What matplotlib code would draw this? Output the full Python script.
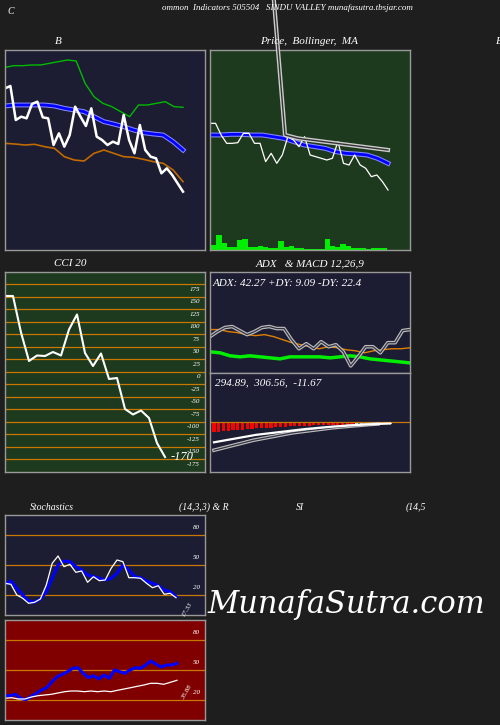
import matplotlib
matplotlib.use("Agg")
import matplotlib.pyplot as plt
import numpy as np

W, H = 500, 725
BG = "#1e1e1e"; NAVY = "#1c1c33"; GRN = "#1e3a1e"; RED = "#800000"; ORG = "#c87800"
FONT = "Liberation Serif"

# ---- data ----
b_close = [485,492,390,400,395,438,445,398,395,315,350,310,345,430,400,372,425,340,330,315,325,318,405,330,290,375,300,280,275,230,245,225,200,175]
b_ma = [432,435,435,435,435,432,425,420,415,400,385,378,370,360,352,348,345,325,300]
b_upper = [548,553,553,555,555,560,565,570,567,500,460,440,430,415,400,435,435,440,445,430,428]
b_lower = [320,318,315,317,310,305,280,270,267,290,300,290,280,278,272,265,260,240,205]

p_close = [380,380,345,320,320,322,350,350,320,320,265,290,260,285,340,330,310,340,285,280,275,270,275,325,260,255,285,255,245,220,225,205,180]
p_ma = [345,345,347,347,345,345,340,335,325,315,310,305,295,290,288,285,275,260]
p_band = [1000,345,335,330,325,320,315,310,305,300]
volume = [15,45,20,10,8,30,32,10,8,12,8,5,5,28,8,12,6,5,3,3,3,3,32,12,8,18,12,6,6,5,4,5,6,6]

cci = [152,152,79,22,33,32,40,33,85,115,38,12,37,-14,-12,-74,-85,-77,-92,-142,-170]
cci_levels = [175,150,125,100,75,50,25,0,-25,-50,-75,-100,-125,-150,-175]

adx = [36,41,45,46,42,38,41,45,46,44,44,33,24,29,24,31,26,28,21,7,16,26,26,20,30,30,42,43]
minus_di = [43,43,41,40,38,37,38,36,33,30,28,26,24,26,25,23,22,20,22,23,24,24,25]
plus_di = [21,20,17,16,17,16,15,14,16,16,16,16,15,16,17,16,14,13,12,11,10]

macd_hist = [-10,-9.5,-9,-8.5,-8,-7.6,-7.2,-6.8,-6.4,-6,-5.7,-5.4,-5.1,-4.8,-4.5,-4.2,-4,-3.8,-3.6,-3.4,-3.2,-3,-2.8,-2.6,-2.5,-2.4,-2.3,-2.2,-2.1,-2,-1.9,-1.8,-1.7,-1.6,-1.5,-1.4,-1.3,-1.2]
macd_line = [-20,-18.5,-17,-15.5,-14,-12.5,-11.5,-10.5,-9.5,-8.5,-7.5,-6.5,-5.8,-5,-4.3,-3.7,-3.1,-2.6,-2.1,-1.7,-1.3,-1]
macd_sig = [-28,-26,-24,-22,-20,-18,-16.5,-15,-13.5,-12,-10.5,-9.5,-8.5,-7.5,-6.5,-5.5,-4.7,-4,-3.3,-2.7,-2,-1.5]

stoch_k = [31.7,30.7,20,16.7,11.7,12.7,16,30,51.7,59,48.3,50.7,42.7,44,32.7,38.3,34.3,35,46.7,55,53.3,37.3,37.3,36.7,31.7,27.3,29.3,20.7,21.7,17.3]
stoch_d = [30.7,34,26.7,20,14,12.7,16,23.3,36.7,50,54,53.3,48.3,45,40,38.3,36.7,35,36.7,41.7,50,45,38.3,37.3,34,31.7,29.3,25,23.3,18.3]
rsi = [24.3,24.3,25.7,21.7,20.3,23.3,26.7,30,32.3,38.3,43.3,45.7,48.3,51.7,52.3,46.7,42.3,44.3,41,45,41.7,50,48.3,46.7,50,52.3,51.7,55,59,55.7,53,55,55,56.7]
rsi_ma = [21.7,22.3,21,21,23,24.3,25,25.7,27,28.3,29,29,28.3,29,28.3,29,28.3,29.7,31,32.3,33.7,35,36.7,36.7,35.7,37.7,39.7]
osc_levels = [80,50,20]

fig = plt.figure(figsize=(W/100, H/100), dpi=100, facecolor=BG)

def mkax(x0, y0, x1, y1, color):
    ax = fig.add_axes([x0/W, 1-y1/H, (x1-x0)/W, (y1-y0)/H], facecolor=color)
    ax.set_xticks([]); ax.set_yticks([])
    for s in ax.spines.values():
        s.set_color("#999999"); s.set_linewidth(1)
    return ax

def xs(vals, end, start=0):
    return np.linspace(start, end, len(vals))

def txt(x, y, s, size=8, **kw):
    fig.text(x/W, 1-y/H, s, color="white", fontsize=size, family=FONT, style="italic", **kw)

# B panel
ax = mkax(5, 50, 205, 250, NAVY)
ax.set_xlim(0, 200); ax.set_ylim(0, 600)
ax.plot(xs(b_upper, 178), b_upper, color="#00bb00", lw=1)
ax.plot(xs(b_lower, 178), b_lower, color="#c06a00", lw=1.2)
ax.plot(xs(b_ma, 178), b_ma, color="#8888ff", lw=3.5)
ax.plot(xs(b_ma, 178), b_ma, color="#0000ff", lw=2)
ax.plot(xs(b_close, 178), b_close, color="white", lw=1.8)

# Price panel
ax = mkax(210, 50, 410, 250, GRN)
ax.set_xlim(0, 200); ax.set_ylim(0, 600)
ax.bar(xs(volume, 174, start=4), volume, width=5.5, color="#00ee00")
bx = np.concatenate([[57], np.linspace(75, 178, len(p_band)-1)])
ax.plot(bx, p_band, color="#cccccc", lw=3, clip_on=False, zorder=3)
ax.plot(bx, p_band, color="#333333", lw=1, clip_on=False, zorder=3)
ax.plot(xs(p_ma, 178), p_ma, color="#8888ff", lw=3.5)
ax.plot(xs(p_ma, 178), p_ma, color="#0000ff", lw=2)
ax.plot(xs(p_close, 178), p_close, color="white", lw=0.9)

# CCI
ax = mkax(5, 272, 205, 472, GRN)
ax.set_xlim(0, 200); ax.set_ylim(-200, 200)
for lv in cci_levels:
    ax.axhline(lv, color=ORG, lw=0.9)
    ax.text(195, lv-5, str(lv), color="white", fontsize=5, family=FONT, style="italic", ha="right", va="top")
ax.plot(xs(cci, 160), cci, color="white", lw=1.5)
ax.text(166, cci[-1], str(cci[-1]), color="white", fontsize=9, family=FONT, style="italic", va="center")

# ADX
ax = mkax(210, 272, 410, 373, NAVY)
ax.set_xlim(0, 200); ax.set_ylim(0, 100)
ax.plot(xs(plus_di, 200), plus_di, color="#00ee00", lw=2.5)
ax.plot(xs(minus_di, 200), minus_di, color="#e08000", lw=1)
ax.plot(xs(adx, 200), adx, color="#bbbbbb", lw=2.6)
ax.plot(xs(adx, 200), adx, color="#333344", lw=0.9)
ax.text(3, 93, "ADX: 42.27 +DY: 9.09 -DY: 22.4", color="white", fontsize=8, family=FONT, style="italic", va="top")

# MACD
ax = mkax(210, 373, 410, 472, NAVY)
ax.set_xlim(0, 200); ax.set_ylim(-50, 50)
ax.axhline(0, color=ORG, lw=0.9)
hx = xs(macd_hist, 180, start=4)
cols = ["#ff0000"]*30 + ["#dddddd"]*8
ax.bar(hx, macd_hist, width=3.2, color=cols)
ax.plot(xs(macd_sig, 168, start=4), macd_sig, color="#bbbbbb", lw=2.6)
ax.plot(xs(macd_sig, 168, start=4), macd_sig, color="#333344", lw=0.9)
ax.plot(xs(macd_line, 180, start=4), macd_line, color="white", lw=1.6)
ax.text(5, 45, "294.89,  306.56,  -11.67", color="white", fontsize=8, family=FONT, style="italic", va="top")

# Stochastics
ax = mkax(5, 515, 205, 615, NAVY)
ax.set_xlim(0, 200); ax.set_ylim(0, 100)
for lv in osc_levels:
    ax.axhline(lv, color=ORG, lw=0.9)
    ax.text(195, lv+5, str(lv), color="white", fontsize=5, family=FONT, style="italic", ha="right", va="bottom")
ax.plot(xs(stoch_d, 171), stoch_d, color="#0000ff", lw=2.2)
ax.plot(xs(stoch_k, 171), stoch_k, color="white", lw=0.9)
ax.text(176, stoch_k[-1]-4, "17.33", color="white", fontsize=5, family=FONT, style="italic", rotation=60, va="top")

# RSI
ax = mkax(5, 620, 205, 720, RED)
ax.set_xlim(0, 200); ax.set_ylim(0, 100)
for lv in osc_levels:
    ax.axhline(lv, color=ORG, lw=0.9)
    ax.text(195, lv+5, str(lv), color="white", fontsize=5, family=FONT, style="italic", ha="right", va="bottom")
ax.plot(xs(rsi, 172), rsi, color="#0000ff", lw=2.2)
ax.plot(xs(rsi_ma, 172), rsi_ma, color="white", lw=0.9)
ax.text(176, rsi_ma[-1]-4, "35.88", color="white", fontsize=5, family=FONT, style="italic", rotation=60, va="top")

# titles
txt(7, 11, "C", 7, va="center")
txt(162, 8, "ommon  Indicators 505504   SINDU VALLEY munafasutra.tbsjar.com", 6.5, va="center")
txt(58, 42, "B", 8, ha="center", va="center")
txt(260, 42, "Price,  Bollinger,  MA", 8, va="center")
txt(496, 42, "B", 8, va="center")
txt(70, 264, "CCI 20", 8, ha="center", va="center")
txt(310, 264, "ADX   & MACD 12,26,9", 8, ha="center", va="center")
txt(30, 507, "Stochastics", 7, va="center")
txt(179, 507, "(14,3,3) & R", 7, va="center")
txt(296, 507, "SI", 7, va="center")
txt(406, 507, "(14,5", 7, va="center")
fig.text(346/W, 1-605/H, "MunafaSutra.com", color="white", fontsize=22, family="DejaVu Serif", style="italic", ha="center", va="center")

fig.savefig("out.png", dpi=100, facecolor=BG)
